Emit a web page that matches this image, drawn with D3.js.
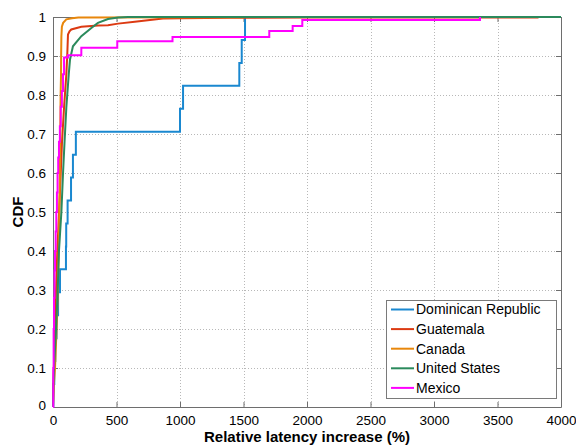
<!DOCTYPE html>
<html>
<head>
<meta charset="utf-8">
<script src="https://cdn.jsdelivr.net/npm/d3@7"></script>
<style>
  body { margin: 0; background: #fff; }
  text { font-family: "Liberation Sans", Arial, sans-serif; fill: #000; }
</style>
</head>
<body>
<svg id="chart" width="576" height="447"></svg>
<script>
// ---- data -------------------------------------------------------------
const seriesNames = ["Dominican Republic", "Guatemala", "Canada", "United States", "Mexico"];
const seriesColors = ["#1a88d0", "#dc3a12", "#e8870c", "#2b8a5c", "#ff00ff"];

// Dominican Republic: 17 measured samples (relative latency increase, %)
const drSamples = [3, 10, 18, 28, 40, 55, 102, 104, 115, 142, 157, 180, 1000, 1024, 1467, 1486, 1512];

// Mexico: empirical CDF steps [increase %, F]
const mexicoSteps = [
  [0, 0], [2, 0.1], [5, 0.2], [8, 0.28], [12, 0.35], [16, 0.4], [21, 0.45], [26, 0.5],
  [31, 0.55], [36, 0.6], [41, 0.64], [47, 0.68], [54, 0.72], [61, 0.77], [70, 0.81],
  [79, 0.853], [87, 0.896], [118, 0.902], [223, 0.921], [506, 0.938], [941, 0.949],
  [1703, 0.964], [1887, 0.977], [1963, 0.992], [3362, 1]
];

// Dense CDF curves [increase %, F]
const guatemalaCdf = [
  [0, 0], [3, 0.05], [7, 0.1], [15, 0.2], [24, 0.3], [34, 0.4], [48, 0.5], [61, 0.6],
  [71, 0.68], [87, 0.768], [105, 0.853], [112, 0.9], [118, 0.955], [130, 0.963],
  [144, 0.968], [223, 0.975], [354, 0.978], [433, 0.979], [512, 0.983], [644, 0.988],
  [866, 0.996], [1000, 0.997], [1400, 0.998], [2000, 0.9985], [3815, 0.9985], [3815, 1]
];
const canadaCdf = [
  [0, 0], [5, 0.05], [16, 0.1], [28, 0.2], [38, 0.3], [45, 0.4], [50, 0.5], [54, 0.6],
  [57, 0.7], [60, 0.8], [63, 0.85], [64, 0.9], [66, 0.95], [70, 0.975], [80, 0.985],
  [105, 0.994], [150, 0.997], [200, 0.999], [1500, 0.9995], [1500, 1]
];
const usCdf = [
  [0, 0], [3, 0.05], [8, 0.1], [24, 0.2], [37, 0.3], [47, 0.4], [66, 0.5], [79, 0.6],
  [91, 0.68], [105, 0.768], [124, 0.853], [134, 0.891], [157, 0.925], [223, 0.951],
  [302, 0.972], [354, 0.985], [433, 0.995], [512, 0.999], [590, 1], [4000, 1]
];

const xTicks = [0, 500, 1000, 1500, 2000, 2500, 3000, 3500, 4000];
const yTicks = [0, 0.1, 0.2, 0.3, 0.4, 0.5, 0.6, 0.7, 0.8, 0.9, 1];
const yTickLabels = ["0", "0.1", "0.2", "0.3", "0.4", "0.5", "0.6", "0.7", "0.8", "0.9", "1"];

// ---- layout -------------------------------------------------------------
const plot = { left: 53, top: 17, right: 561, bottom: 407 };
const svg = d3.select("#chart");

const x = d3.scaleLinear().domain([0, 4000]).range([plot.left, plot.right]);
const y = d3.scaleLinear().domain([0, 1]).range([plot.bottom, plot.top]);

// grid
const grid = svg.append("g").attr("stroke", "#b8b8b8").attr("stroke-width", 1)
  .attr("stroke-dasharray", "1,2").attr("shape-rendering", "crispEdges");
grid.selectAll(".gx").data(xTicks.slice(1, -1)).join("line")
  .attr("x1", d => Math.round(x(d)) + 0.5).attr("x2", d => Math.round(x(d)) + 0.5)
  .attr("y1", plot.top).attr("y2", plot.bottom);
grid.selectAll(".gy").data(yTicks.slice(1, -1)).join("line")
  .attr("y1", d => Math.round(y(d)) + 0.5).attr("y2", d => Math.round(y(d)) + 0.5)
  .attr("x1", plot.left).attr("x2", plot.right);

// axes (ticks point inward, mirrored on top/right)
const axisColor = "#6e6e6e";
const fontSize = "13.5px";
const gxB = svg.append("g").attr("transform", `translate(0,${plot.bottom})`)
  .call(d3.axisBottom(x).tickValues(xTicks).tickFormat(d3.format("d")).tickSizeInner(-5).tickSizeOuter(0).tickPadding(8));
const gxT = svg.append("g").attr("transform", `translate(0,${plot.top})`)
  .call(d3.axisTop(x).tickValues(xTicks).tickFormat("").tickSizeInner(-5).tickSizeOuter(0));
const gyL = svg.append("g").attr("transform", `translate(${plot.left},0)`)
  .call(d3.axisLeft(y).tickValues(yTicks).tickFormat((d, i) => yTickLabels[i]).tickSizeInner(-5).tickSizeOuter(0).tickPadding(7));
const gyR = svg.append("g").attr("transform", `translate(${plot.right},0)`)
  .call(d3.axisRight(y).tickValues(yTicks).tickFormat("").tickSizeInner(-5).tickSizeOuter(0));
[gxB, gxT, gyL, gyR].forEach(g => {
  g.select(".domain").attr("stroke", axisColor);
  g.selectAll(".tick line").attr("stroke", axisColor);
  g.selectAll("text").attr("font-size", fontSize).attr("font-family", "Liberation Sans, Arial, sans-serif").attr("fill", "#000");
});
// the origin label on the y axis sits slightly above the corner
gyL.selectAll(".tick").filter(d => d === 0).select("text").attr("dy", "0.15em");

// series lines
const lineLin = d3.line().x(d => x(d[0])).y(d => y(d[1]));
const lineStep = d3.line().x(d => x(d[0])).y(d => y(d[1])).curve(d3.curveStepAfter);

// empirical CDF points from raw samples
const sortedDr = drSamples.slice().sort((a, b) => a - b);
const drSteps = [[sortedDr[0], 0]].concat(sortedDr.map((v, i) => [v, (i + 1) / sortedDr.length]));

const lines = [
  { d: lineStep(drSteps), c: seriesColors[0] },
  { d: lineLin(guatemalaCdf), c: seriesColors[1] },
  { d: lineLin(canadaCdf), c: seriesColors[2] },
  { d: lineLin(usCdf), c: seriesColors[3] },
  { d: lineStep(mexicoSteps), c: seriesColors[4] }
];
svg.append("g").selectAll("path").data(lines).join("path")
  .attr("d", d => d.d).attr("fill", "none").attr("stroke", d => d.c)
  .attr("stroke-width", 2).attr("stroke-linejoin", "miter");

// axis titles
svg.append("text").attr("x", (plot.left + plot.right) / 2).attr("y", 442)
  .attr("text-anchor", "middle").attr("font-size", "15px").attr("font-weight", "bold")
  .text("Relative latency increase (%)");
svg.append("text").attr("transform", `translate(23,${(plot.top + plot.bottom) / 2}) rotate(-90)`)
  .attr("text-anchor", "middle").attr("font-size", "15px").attr("font-weight", "bold")
  .text("CDF");

// legend
const lg = svg.append("g").attr("transform", "translate(386,300)");
lg.append("rect").attr("width", 170).attr("height", 98)
  .attr("fill", "#fff").attr("stroke", "#7a7a7a").attr("stroke-width", 1)
  .attr("shape-rendering", "crispEdges");
const rows = lg.selectAll("g.row").data(seriesNames).join("g")
  .attr("transform", (d, i) => `translate(0,${9.5 + i * 19.6})`);
rows.append("line").attr("x1", 5).attr("x2", 28).attr("stroke", (d, i) => seriesColors[i]).attr("stroke-width", 2);
rows.append("text").attr("x", 30).attr("dy", "0.35em").attr("font-size", "14px").text(d => d);
</script>
</body>
</html>
